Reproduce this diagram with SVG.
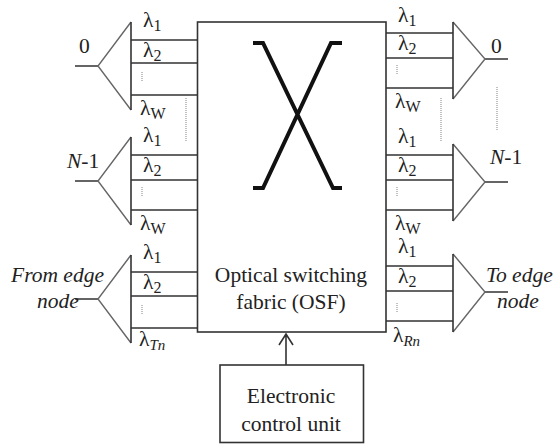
<svg xmlns="http://www.w3.org/2000/svg" width="553" height="446" viewBox="0 0 553 446">
<style>
.l{fill:none;stroke:#333;stroke-width:1.6}
.t{fill:none;stroke:#666;stroke-width:1.4}
.d{fill:none;stroke:#999;stroke-width:1.2;stroke-dasharray:1 1}
.x{fill:none;stroke:#111;stroke-width:4}
text{font-family:"Liberation Serif","Times New Roman",serif;font-size:21.500px;fill:#222}
.s{font-size:16px}
.sm{font-size:15px}
.i{font-style:italic}
</style>
<rect width="553" height="446" fill="#fff"/>
<g id="connectors">
<path class="l" d="M131 40H197M131 63H197M131 95H197M131 155H197M131 180H197M131 210H197M131 272H197M131 296H197M131 328H197"/>
<path class="l" d="M386 33H453M386 58H453M386 88H453M386 155H453M386 180H453M386 210H453M386 266H453M386 291H453M386 321H453"/>
<path class="l" d="M75 66H98M75 181H98M75 299H98M485 59H508M485 182H508M485 292H508"/>
<path class="l" d="M286 365V334M279 345L286 334L293 345"/>
<path class="d" d="M186 98V142M441 98V142M497 87V130M142 72V82M142 187V197M142 305V315M397 65V75M397 187V197M397 303V313"/>
</g>
<g id="osf">
<rect class="l" x="197.500" y="22" width="188.500" height="310" fill="#fff"/>
<path class="x" d="M253 43H263L333 188H342M342 43H331L263 188H253"/>
<text x="291" y="282" text-anchor="middle">Optical switching</text>
<text x="291" y="309" text-anchor="middle">fabric (OSF)</text>
</g>
<g id="control">
<rect class="l" x="220" y="365" width="143.500" height="77.500" fill="#fff"/>
<text x="291" y="403" text-anchor="middle">Electronic</text>
<text x="291" y="431" text-anchor="middle">control unit</text>
</g>
<g id="in0">
<path class="t" d="M131 22L98 66L131 110"/><path class="l" d="M131 22V110"/>
<text x="79" y="53">0</text>
<text x="143" y="27">λ<tspan class="s" dy="4">1</tspan></text>
<text x="143" y="57">λ<tspan class="s" dy="4">2</tspan></text>
<text x="140" y="115">λ<tspan class="s" dy="4">W</tspan></text>
</g>
<g id="inN">
<path class="t" d="M131 137L98 181L131 225"/><path class="l" d="M131 137V225"/>
<text x="67" y="168"><tspan class="i">N</tspan>-1</text>
<text x="143" y="142">λ<tspan class="s" dy="4">1</tspan></text>
<text x="143" y="172">λ<tspan class="s" dy="4">2</tspan></text>
<text x="140" y="230">λ<tspan class="s" dy="4">W</tspan></text>
</g>
<g id="inEdge">
<path class="t" d="M131 255L98 299L131 343"/><path class="l" d="M131 255V343"/>
<text class="i" x="11" y="282">From edge</text>
<text class="i" x="37" y="308">node</text>
<text x="143" y="259">λ<tspan class="s" dy="4">1</tspan></text>
<text x="143" y="289">λ<tspan class="s" dy="4">2</tspan></text>
<text x="139" y="346">λ<tspan class="sm i" dy="4">Tn</tspan></text>
</g>
<g id="out0">
<path class="t" d="M453 22L485 59L453 99"/><path class="l" d="M453 22V99"/>
<text x="491" y="53">0</text>
<text x="398" y="22">λ<tspan class="s" dy="4">1</tspan></text>
<text x="398" y="50">λ<tspan class="s" dy="4">2</tspan></text>
<text x="395" y="108">λ<tspan class="s" dy="4">W</tspan></text>
</g>
<g id="outN">
<path class="t" d="M453 144L485 182L453 221"/><path class="l" d="M453 144V221"/>
<text x="490" y="164"><tspan class="i">N</tspan>-1</text>
<text x="398" y="143">λ<tspan class="s" dy="4">1</tspan></text>
<text x="398" y="172">λ<tspan class="s" dy="4">2</tspan></text>
<text x="395" y="230">λ<tspan class="s" dy="4">W</tspan></text>
</g>
<g id="outEdge">
<path class="t" d="M453 254L485 292L453 332"/><path class="l" d="M453 254V332"/>
<text class="i" x="486" y="282">To edge</text>
<text class="i" x="497" y="308">node</text>
<text x="398" y="253">λ<tspan class="s" dy="4">1</tspan></text>
<text x="398" y="283">λ<tspan class="s" dy="4">2</tspan></text>
<text x="393" y="342">λ<tspan class="sm i" dy="4">Rn</tspan></text>
</g>
</svg>
